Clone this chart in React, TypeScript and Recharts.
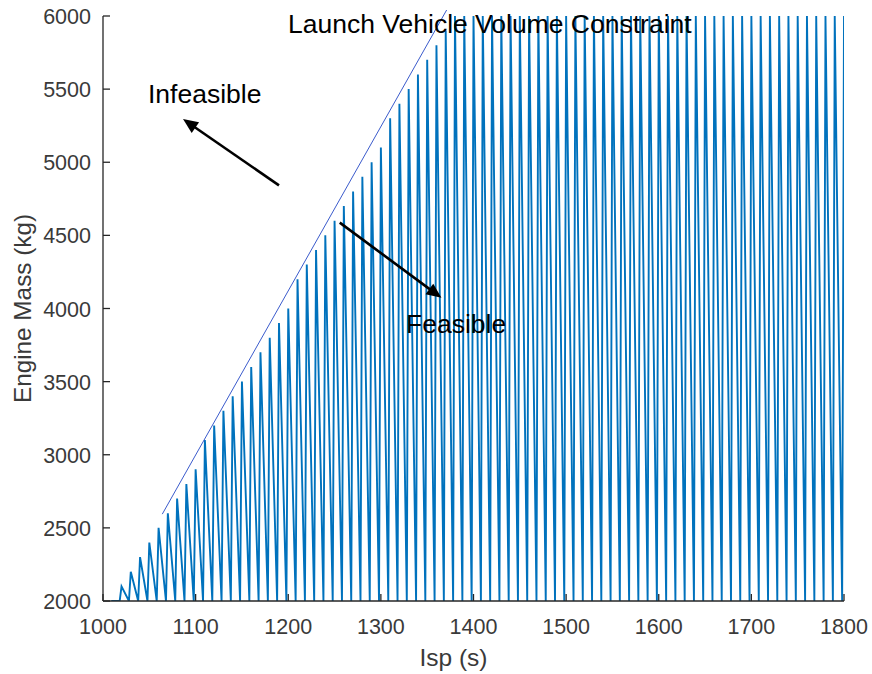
import React from 'react';
import { LineChart, Line, XAxis, YAxis, ReferenceLine } from 'recharts';

const FONT = '"Liberation Sans", Arial, Helvetica, sans-serif';
const AXIS_COLOR = '#262626';
const TICK_TEXT = '#3a3a3a';

// Isp at the top of each upstroke of the mass sweep (s)
const toothIsp = [
  1020, 1030, 1040, 1050, 1060, 1070, 1080, 1090, 1100,
  1110, 1120, 1130, 1140, 1150, 1160, 1170, 1180, 1190, 1200,
  1210, 1220, 1230, 1240, 1250, 1260, 1270, 1280, 1290, 1300,
  1310, 1320, 1330, 1340, 1350, 1360, 1370,
  1380, 1390, 1400, 1410, 1420, 1430, 1440, 1450, 1460, 1470,
  1480, 1490, 1500, 1510, 1520, 1530, 1540, 1550, 1560, 1570,
  1580, 1590, 1600, 1610, 1620, 1630, 1640, 1650, 1660, 1670,
  1680, 1690, 1700, 1710, 1720, 1730, 1740, 1750, 1760, 1770,
  1780, 1790, 1800,
];

// Largest feasible engine mass reached at each of those Isp values (kg)
const toothPeak = [
  2100, 2200, 2300, 2400, 2500, 2600, 2700, 2800, 2900,
  3100, 3200, 3300, 3400, 3500, 3600, 3700, 3800, 3900, 4000,
  4200, 4300, 4400, 4500, 4600, 4700, 4800, 4900, 5000, 5100,
  5300, 5400, 5500, 5600, 5700, 5800, 5900,
  6000, 6000, 6000, 6000, 6000, 6000, 6000, 6000, 6000, 6000,
  6000, 6000, 6000, 6000, 6000, 6000, 6000, 6000, 6000, 6000,
  6000, 6000, 6000, 6000, 6000, 6000, 6000, 6000, 6000, 6000,
  6000, 6000, 6000, 6000, 6000, 6000, 6000, 6000, 6000, 6000,
  6000, 6000, 6000,
];

// Every sweep restarts from the minimum engine mass just before the next Isp step
const massFloor = 2000;
const sweepStartIsp = 1009;
const upstrokeIsp = 2;

// Launch vehicle volume constraint (Isp, mass) end points
const constraintIsp = [1064, 1371];
const constraintMass = [2594, 6041];

const xTicks = [1000, 1100, 1200, 1300, 1400, 1500, 1600, 1700, 1800];
const yTicks = [2000, 2500, 3000, 3500, 4000, 4500, 5000, 5500, 6000];

const sweep: { isp: number; mass: number }[] = [{ isp: sweepStartIsp, mass: massFloor }];
toothIsp.forEach((isp, i) => {
  sweep.push({ isp: isp - upstrokeIsp, mass: massFloor });
  sweep.push({ isp, mass: toothPeak[i] });
});

const YTick = (props: any) => {
  const { x, y, payload } = props;
  return (
    <g>
      <line x1={x} y1={y} x2={x + 7} y2={y} stroke={AXIS_COLOR} strokeWidth={1.3} />
      <text x={x - 12} y={y + 8} textAnchor="end" fontSize={21.5} fill={TICK_TEXT} fontFamily={FONT}>
        {payload.value}
      </text>
    </g>
  );
};

const XTick = (props: any) => {
  const { x, y, payload } = props;
  return (
    <g>
      <line x1={x} y1={y} x2={x} y2={y - 7} stroke={AXIS_COLOR} strokeWidth={1.3} />
      <text x={x} y={y + 33} textAnchor="middle" fontSize={21.5} fill={TICK_TEXT} fontFamily={FONT}>
        {payload.value}
      </text>
    </g>
  );
};

const arrowShape = (p: any) => {
  const { x1, y1, x2, y2 } = p;
  const dx = x2 - x1;
  const dy = y2 - y1;
  const len = Math.hypot(dx, dy) || 1;
  const ux = dx / len;
  const uy = dy / len;
  const head = 15;
  const half = 6.5;
  const bx = x2 - ux * head;
  const by = y2 - uy * head;
  return (
    <g>
      <line x1={x1} y1={y1} x2={bx + ux * 2} y2={by + uy * 2} stroke="#000" strokeWidth={2.6} />
      <polygon
        points={`${x2},${y2} ${bx - uy * half},${by + ux * half} ${bx + uy * half},${by - ux * half}`}
        fill="#000"
      />
    </g>
  );
};

const textStyle = { fontFamily: FONT, fontSize: 26.5, fill: '#000' } as const;

export default function App() {
  return (
    <div style={{ position: 'absolute', left: 0, top: 0, width: 872, height: 674, overflow: 'hidden', background: '#fff' }}>
      <LineChart
        width={872}
        height={674}
        data={sweep}
        margin={{ top: 16, right: 28, bottom: 0, left: 0 }}
      >
        <XAxis
          dataKey="isp"
          type="number"
          domain={[1000, 1800]}
          ticks={xTicks}
          allowDataOverflow
          height={73}
          tickSize={0}
          tickMargin={0}
          tick={<XTick />}
          axisLine={{ stroke: AXIS_COLOR, strokeWidth: 1.3 }}
          tickLine={false}
          label={{
            content: (lp: any) => {
              const vb = lp.viewBox;
              return (
                <text x={vb.x + vb.width / 2 - 20} y={vb.y + 65} textAnchor="middle" fontSize={24.5} fill={TICK_TEXT} fontFamily={FONT}>
                  Isp (s)
                </text>
              );
            },
          }}
        />
        <YAxis
          dataKey="mass"
          type="number"
          domain={[2000, 6000]}
          ticks={yTicks}
          allowDataOverflow
          width={103}
          tickSize={0}
          tickMargin={0}
          tick={<YTick />}
          axisLine={{ stroke: AXIS_COLOR, strokeWidth: 1.3 }}
          tickLine={false}
          label={{
            content: (lp: any) => {
              const vb = lp.viewBox;
              const cy = vb.y + vb.height / 2;
              return (
                <text x={31} y={cy} transform={`rotate(-90 31 ${cy})`} textAnchor="middle" fontSize={24.3} fill={TICK_TEXT} fontFamily={FONT}>
                  Engine Mass (kg)
                </text>
              );
            },
          }}
        />
        <Line
          type="linear"
          dataKey="mass"
          stroke="#0072BD"
          strokeWidth={1.9}
          dot={false}
          activeDot={false}
          isAnimationActive={false}
        />
        <ReferenceLine
          segment={[
            { x: constraintIsp[0], y: constraintMass[0] },
            { x: constraintIsp[1], y: constraintMass[1] },
          ]}
          stroke="#3b5bcc"
          strokeWidth={1}
          ifOverflow="visible"
        />
        <ReferenceLine
          segment={[{ x: 1190, y: 4842 }, { x: 1086.4, y: 5295 }]}
          ifOverflow="visible"
          shape={arrowShape}
        />
        <ReferenceLine
          segment={[{ x: 1255.6, y: 4587 }, { x: 1365.4, y: 4073 }]}
          ifOverflow="visible"
          shape={arrowShape}
        />
      </LineChart>
      <svg width={872} height={674} style={{ position: 'absolute', left: 0, top: 0, pointerEvents: 'none' }}>
        <text x={288} y={33} {...textStyle}>Launch Vehicle Volume Constraint</text>
        <text x={148} y={103} {...textStyle}>Infeasible</text>
        <text x={406} y={333} {...textStyle}>Feasible</text>
      </svg>
    </div>
  );
}
